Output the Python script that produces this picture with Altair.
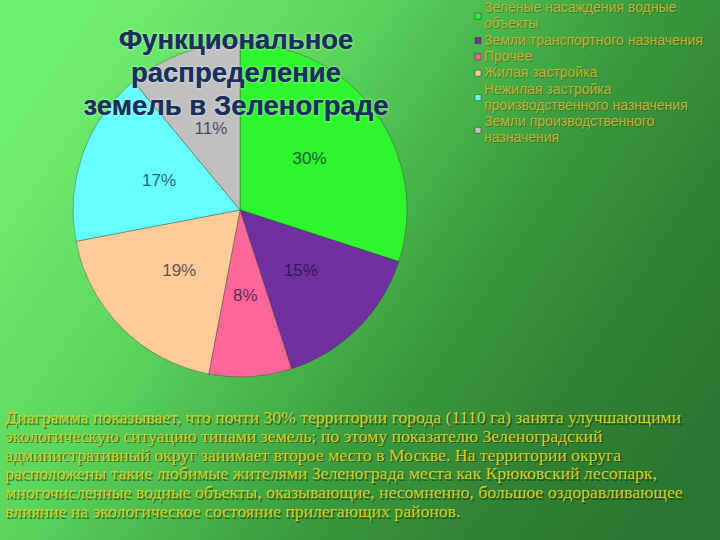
import altair as alt
import pandas as pd

# ---- data ----
categories = [
    "Зелёные насаждения водные объекты",
    "Земли транспортного назначения",
    "Прочее",
    "Жилая застройка",
    "Нежилая застройка производственного назначения",
    "Земли производственного назначения",
]
legend_lines = [
    ["Зелёные насаждения водные", "объекты"],
    ["Земли транспортного назначения"],
    ["Прочее"],
    ["Жилая застройка"],
    ["Нежилая застройка", "производственного назначения"],
    ["Земли производственного", "назначения"],
]
shares = [30, 15, 8, 19, 17, 11]
colors = ["#2EF52E", "#7030A0", "#FF6699", "#FFCC99", "#66FFFF", "#C0C0C0"]

title_lines = ["Функциональное", "распределение", "земель в Зеленограде"]
paragraph_lines = [
    "Диаграмма показывает, что почти 30% территории города (1110 га) занята улучшающими",
    "экологическую ситуацию типами земель; по этому показателю Зеленоградский",
    "административный округ занимает второе место в Москве. На территории округа",
    "расположены такие любимые жителями Зеленограда места как Крюковский лесопарк,",
    "многочисленные водные объекты, оказывающие, несомненно, большое оздоравливающее",
    "влияние на экологическое состояние прилегающих районов.",
]

W, H = 720, 540

# ---- tables ----
pie_df = pd.DataFrame({
    "category": categories,
    "share": shares,
    "idx": list(range(len(categories))),
    "label": [f"{s}%" for s in shares],
})

LEG_LH = 16.3
starts = []
acc = 0
for lines in legend_lines:
    starts.append(acc)
    acc += len(lines)
leg_df = pd.DataFrame({
    "category": categories,
    "text": ["\n".join(l) for l in legend_lines],
    "yfirst": [8 + LEG_LH * s for s in starts],
    "yc": [8 + LEG_LH * (s + (len(l) - 1) / 2) for s, l in zip(starts, legend_lines)],
})

one = pd.DataFrame({"k": [0]})
title_df = pd.DataFrame({"t": ["\n".join(title_lines)]})
para_df = pd.DataFrame({"t": ["\n".join(paragraph_lines)]})

color_scale = alt.Scale(domain=categories, range=colors)

# ---- background ----
bg = alt.Chart(one).mark_rect(
    color=alt.Gradient(
        gradient="linear",
        x1=0, y1=0.25, x2=1, y2=0.75,
        stops=[
            alt.GradientStop(color="#70F070", offset=0),
            alt.GradientStop(color="#5CD65D", offset=0.3),
            alt.GradientStop(color="#3A9C3E", offset=0.62),
            alt.GradientStop(color="#2F8033", offset=0.85),
            alt.GradientStop(color="#2A782F", offset=1),
        ],
    )
).encode(x=alt.value(0), x2=alt.value(W), y=alt.value(0), y2=alt.value(H))

# ---- pie ----
base = alt.Chart(pie_df).encode(
    theta=alt.Theta("share:Q", stack=True),
    order=alt.Order("idx:Q", sort="ascending"),
    x=alt.value(240),
    y=alt.value(210),
)
pie = base.mark_arc(radius=167, stroke="#3a3a3a", strokeWidth=0.4).encode(
    color=alt.Color("category:N", scale=color_scale, legend=None, sort=categories)
)
pie_labels = base.mark_text(
    radius=86, fontSize=17, font="Liberation Sans", color="#10123a", opacity=0.68
).encode(text="label:N", detail="category:N")

# ---- title ----
title_kw = dict(lineBreak="\n", lineHeight=33, fontSize=27.5, fontWeight="bold",
                font="Liberation Sans", align="center", baseline="alphabetic", color="#1B2F5E")
title_glow = alt.Chart(title_df).mark_text(
    stroke="#e0f5e0", strokeWidth=3, strokeOpacity=0.25, **title_kw
).encode(text="t:N", x=alt.value(236), y=alt.value(49))
title = alt.Chart(title_df).mark_text(**title_kw).encode(
    text="t:N", x=alt.value(236), y=alt.value(49)
)

# ---- legend ----
leg_sq = alt.Chart(leg_df).mark_square(size=36, opacity=1, stroke="#333", strokeWidth=0.5).encode(
    x=alt.value(478),
    y=alt.Y("yc:Q", scale=None),
    color=alt.Color("category:N", scale=color_scale, legend=None, sort=categories),
)
leg_kw = dict(lineBreak="\n", lineHeight=LEG_LH, fontSize=14, font="Liberation Sans",
              align="left", baseline="middle")
leg_shadow = alt.Chart(leg_df).mark_text(
    color="#1a3a1a", opacity=0.4, dx=1, dy=1, **leg_kw
).encode(text="text:N", x=alt.value(484), y=alt.Y("yfirst:Q", scale=None))
leg_text = alt.Chart(leg_df).mark_text(color="#C8B030", **leg_kw).encode(
    text="text:N", x=alt.value(484), y=alt.Y("yfirst:Q", scale=None)
)

# ---- paragraph ----
para_kw = dict(lineBreak="\n", lineHeight=18.8, fontSize=17.7, font="Liberation Serif",
               align="left", baseline="alphabetic")
para_shadow = alt.Chart(para_df).mark_text(
    color="#0f2f0f", opacity=0.55, dx=1.5, dy=1.5, **para_kw
).encode(text="t:N", x=alt.value(5), y=alt.value(423))
para = alt.Chart(para_df).mark_text(color="#DCCB23", **para_kw).encode(
    text="t:N", x=alt.value(5), y=alt.value(423)
)

chart = alt.layer(
    bg, pie, pie_labels, title_glow, title, leg_sq, leg_shadow, leg_text, para_shadow, para
).properties(
    width=W, height=H, padding=0, autosize=alt.AutoSizeParams(type="none")
).configure_view(stroke=None).configure(background="#3CA03F")

chart.save("out.html", embed_options={"renderer": "svg", "actions": False})
